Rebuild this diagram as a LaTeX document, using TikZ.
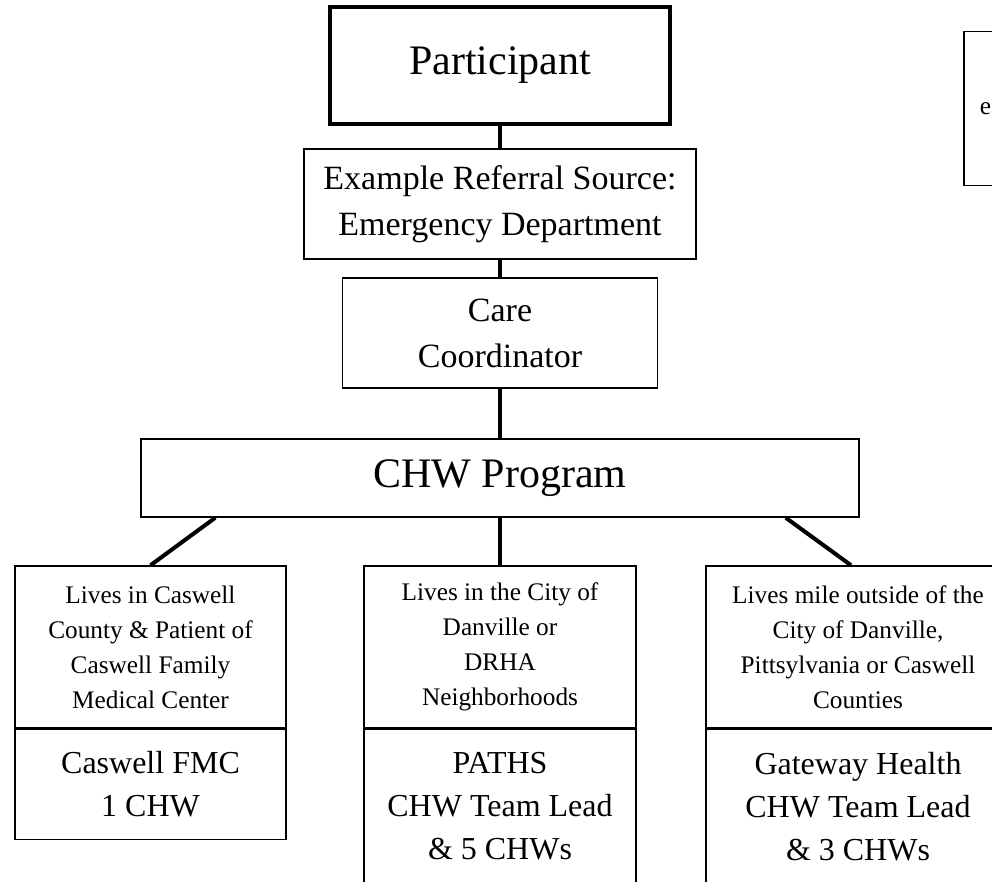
\documentclass[tikz,border=0pt]{standalone}
\usepackage{fontspec}
\setmainfont{Liberation Serif}
\usetikzlibrary{positioning}
\tikzset{
	every node/.style={align=center, inner sep=0pt},
	box/.style={draw, line width=1.5pt},
	mainbox/.style={draw, line width=4pt},
	link/.style={line width=4pt},
	big/.style={font=\fontsize{42}{50}\selectfont},
	mid/.style={font=\fontsize{34}{46}\selectfont},
	area/.style={box, minimum height=162, font=\fontsize{25.3}{35}\selectfont},
	team/.style={box, font=\fontsize{32}{43}\selectfont}
}

\begin{document}
\begin{tikzpicture}[x=1pt,y=-1pt]
	\useasboundingbox (0,0) rectangle (992,882);
	\begin{scope}
		\clip (0,0) rectangle (992,882);
		% Top of the chain
		\node (part) [mainbox, big, minimum width=340, minimum height=117] at (500,65.5) {Participant};
		\node (ref) [box, mid, minimum width=392, minimum height=110] at (500,204) {Example Referral Source:\\Emergency Department};
		\node (care) [box, mid, minimum width=315, minimum height=110] at (500,333) {Care\\Coordinator};
		\node (chw) [box, big, minimum width=718, minimum height=78] at (500,478) {CHW Program};
		
		% Note box, cut at the right edge
		\node (note) [box, anchor=north west, minimum width=150, minimum height=154, text width=120, inner xsep=16pt, align=left, font=\fontsize{25.3}{35}\selectfont] at (963,31) {e};
		
		% Areas
		\node (lu) [area, minimum width=271] at (150.5,647) {Lives in Caswell\\County \& Patient of\\Caswell Family\\Medical Center};
		\node (mu) [area, minimum width=272] at (500,647) {Lives in the City of\\Danville or\\DRHA\\Neighborhoods};
		\node (ru) [area, minimum width=304] at (858,647) {Lives mile outside of the\\City of Danville,\\Pittsylvania or Caswell\\Counties};
		
		% Teams
		\node (ll) [team, minimum width=271, minimum height=110, below = 0pt of lu] {Caswell FMC\\1 CHW};
		\node (ml) [team, minimum width=272, minimum height=154, below = 0pt of mu] {PATHS\\CHW Team Lead\\\& 5 CHWs};
		\node (rl) [team, minimum width=304, minimum height=154, below = 0pt of ru] {Gateway Health\\CHW Team Lead\\\& 3 CHWs};
		
		\draw[link] (part) -- (ref);
		\draw[link] (ref) -- (care);
		\draw[link] (care) -- (chw);
		\draw[link] ([xshift=75pt]chw.south west) -- (lu.north);
		\draw[link] (chw) -- (mu);
		\draw[link] ([xshift=-74pt]chw.south east) -- ([xshift=-7pt]ru.north);
	\end{scope}
\end{tikzpicture}
\end{document}
